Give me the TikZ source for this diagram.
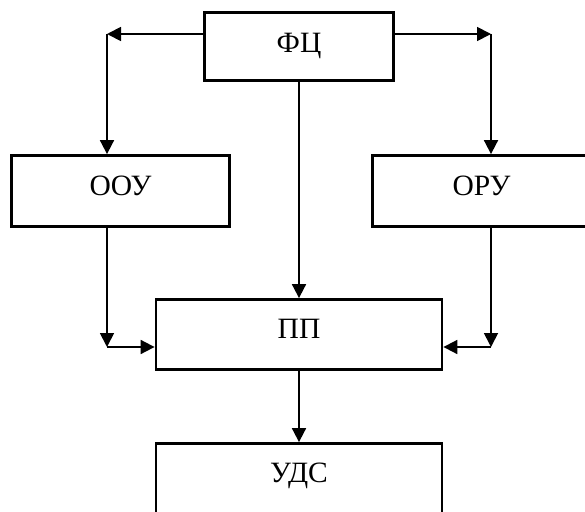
\documentclass[tikz,border=0pt]{standalone}
\usepackage{fontspec}
\setmainfont{Liberation Serif}
\usetikzlibrary{arrows.meta}
\begin{document}
\begin{tikzpicture}[x=1pt,y=-1pt,
  blk/.style={draw,line width=2.8pt,rectangle,inner sep=0pt,text height=20pt,font=\fontsize{29.5}{34}\selectfont},
  arr/.style={line width=1.8pt,-{Triangle[length=14pt,width=14pt]}}]
\useasboundingbox (0,0) rectangle (585,511);
\clip (0,0) rectangle (585,511);
\node[blk, minimum width=189pt, minimum height=68pt, text depth=8pt] (fc) at (299,46.5) {ФЦ};
\node[blk, minimum width=218pt, minimum height=71pt, text depth=11pt] (oou) at (120.5,191) {ООУ};
\node[blk, minimum width=218pt, minimum height=71pt, text depth=11pt] (oru) at (481.5,191) {ОРУ};
\node[blk, minimum width=286pt, minimum height=70pt, text depth=12pt] (pp) at (299,334.5) {ПП};
\node[blk, minimum width=286pt, minimum height=70pt, text depth=13pt] (uds) at (299,478.5) {УДС};
\coordinate (tl) at (107,34);
\coordinate (tr) at (491,34);
\coordinate (bl) at (107,347);
\coordinate (br) at (491,347);
\draw[arr] (tl -| fc.west) -- (tl);
\draw[arr] (tl) -- (tl |- oou.north);
\draw[arr] (tr -| fc.east) -- (tr);
\draw[arr] (tr) -- (tr |- oru.north);
\draw[arr] (bl |- oou.south) -- (bl);
\draw[arr] (bl) -- (bl -| pp.west);
\draw[arr] (br |- oru.south) -- (br);
\draw[arr] (br) -- (br -| pp.east);
\draw[arr] (fc.south) -- (pp.north);
\draw[arr] (pp.south) -- (uds.north);
\end{tikzpicture}
\end{document}
